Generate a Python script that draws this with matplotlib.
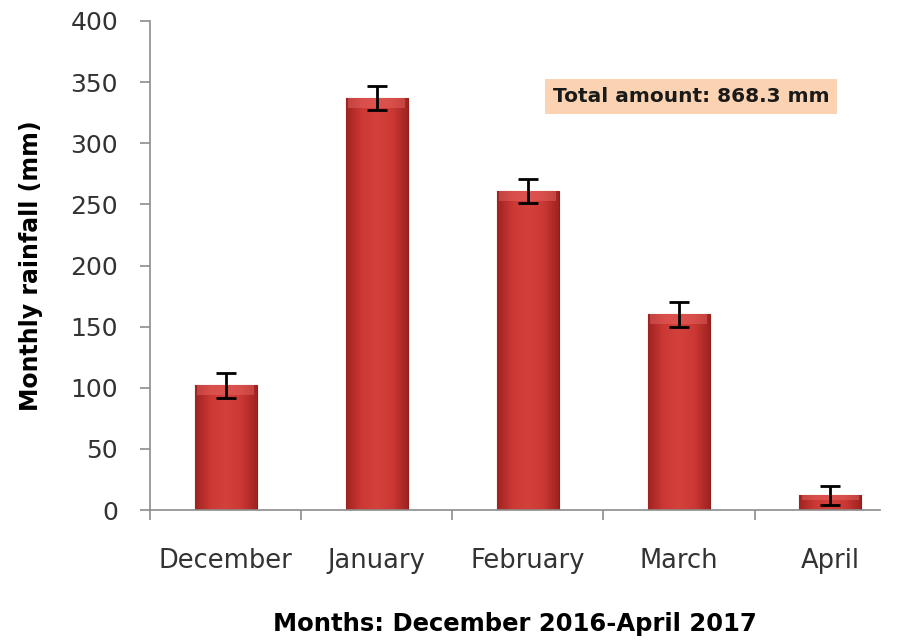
import numpy as np
import matplotlib
matplotlib.use("Agg")
import matplotlib.pyplot as plt
from matplotlib.colors import LinearSegmentedColormap

months = ["December", "January", "February", "March", "April"]
rainfall = [102, 337, 261, 160, 12]
errors = [10, 10, 10, 10, 8]
yticks = [0, 50, 100, 150, 200, 250, 300, 350, 400]
total_label = "Total amount: 868.3 mm"

plt.rcParams['font.family'] = ['DejaVu Sans']

fig = plt.figure(figsize=(9.01, 6.43), dpi=100)
ax = fig.add_axes([150/901, 133/643, 730/901, 489/643])

x = np.arange(len(months))
bars = ax.bar(x, rainfall, width=0.41, color='#c8322f', edgecolor='#8e1d1b', linewidth=0.8, zorder=2)

# horizontal gradient inside each bar for a bevelled look
cmap = LinearSegmentedColormap.from_list('bev', ['#9e2320', '#cc3834', '#d4403c', '#cc3834', '#9e2320'])
grad = np.linspace(0, 1, 256).reshape(1, -1)
for b in bars:
    x0, w, h = b.get_x(), b.get_width(), b.get_height()
    im = ax.imshow(grad, extent=[x0, x0 + w, 0, h], aspect='auto', cmap=cmap, zorder=2.5, interpolation='bicubic')
    im.set_clip_path(b)
    top = min(8, h * 0.35)
    ax.fill_between([x0 + w*0.04, x0 + w*0.96], h - top, h, color='#e86a66', alpha=0.45, zorder=2.6, linewidth=0)

ax.errorbar(x, rainfall, yerr=errors, fmt='none', ecolor='black', elinewidth=2, capsize=7, capthick=2, zorder=3)

ax.set_yticks(yticks)
ax.set_yticklabels([str(v) for v in yticks])
ax.set_xticks(x)
ax.set_xticklabels(months)
ax.set_xticks(np.arange(-0.5, 4.0, 1.0), minor=True)
ax.set_ylim(0, 400)
ax.set_xlim(-0.5, 4.33)

for s in ['top', 'right']:
    ax.spines[s].set_visible(False)
for s in ['left', 'bottom']:
    ax.spines[s].set_color('#8c8c8c')
    ax.spines[s].set_linewidth(1.2)

ax.tick_params(axis='y', direction='out', length=7, width=1.2, color='#8c8c8c', labelsize=18, labelcolor='#333333', pad=16)
ax.tick_params(axis='x', which='major', length=0, labelsize=18.5, labelcolor='#333333', pad=27)
ax.tick_params(axis='x', which='minor', direction='out', length=7, width=1.2, color='#8c8c8c')

ax.set_ylabel("Monthly rainfall (mm)", fontsize=17, fontweight='bold', labelpad=20)
ax.set_xlabel("Months: December 2016-April 2017", fontsize=17.5, fontweight='bold', labelpad=28)

ax.text(0.741, 0.845, total_label, transform=ax.transAxes, ha='center', va='center',
        fontsize=14.5, fontweight='bold', color='#1a1a1a',
        bbox=dict(boxstyle='square,pad=0.4', facecolor='#fbd3b2', edgecolor='none'))

fig.savefig("out.png", dpi=100)
